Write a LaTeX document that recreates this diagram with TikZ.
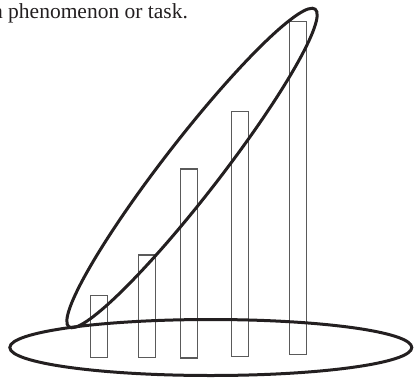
\documentclass[tikz,border=0pt]{standalone}
\usepackage{fontspec}
\setmainfont{Liberation Serif}
\definecolor{inkdark}{RGB}{35, 31, 32}
\definecolor{bargray}{RGB}{90, 90, 90}
\tikzset{
  barbox/.style={draw=bargray, line width=1.2pt, fill=white},
  ringline/.style={draw=inkdark, line width=3pt},
  caption/.style={anchor=base west, inner sep=0pt, text=inkdark,
                  font=\fontsize{21.5}{24}\selectfont},
}
\begin{document}
\begin{tikzpicture}[x=1pt, y=1pt]
  \useasboundingbox (0,0) rectangle (414,381);
  % text line cut off at the left edge
  \node[caption] (cap) at (-6.9,362.7) {a phenomenon or task.};
  % bars
  \foreach \l/\r/\t/\b in {90.3/107.3/85.3/23.3, 138.7/155.3/126/23.3,
                           180.3/197.3/212/23, 231.7/248.3/269.3/24.7,
                           289.7/306.3/359.3/26.7}
    \draw[barbox] (\l,\b) rectangle (\r,\t);
  % the two rings
  \draw[ringline] (210.8,33.5) ellipse [x radius=201, y radius=28];
  \draw[ringline, rotate around={52.2:(192,213)}] (192,213) ellipse [x radius=201, y radius=28];
\end{tikzpicture}
\end{document}
